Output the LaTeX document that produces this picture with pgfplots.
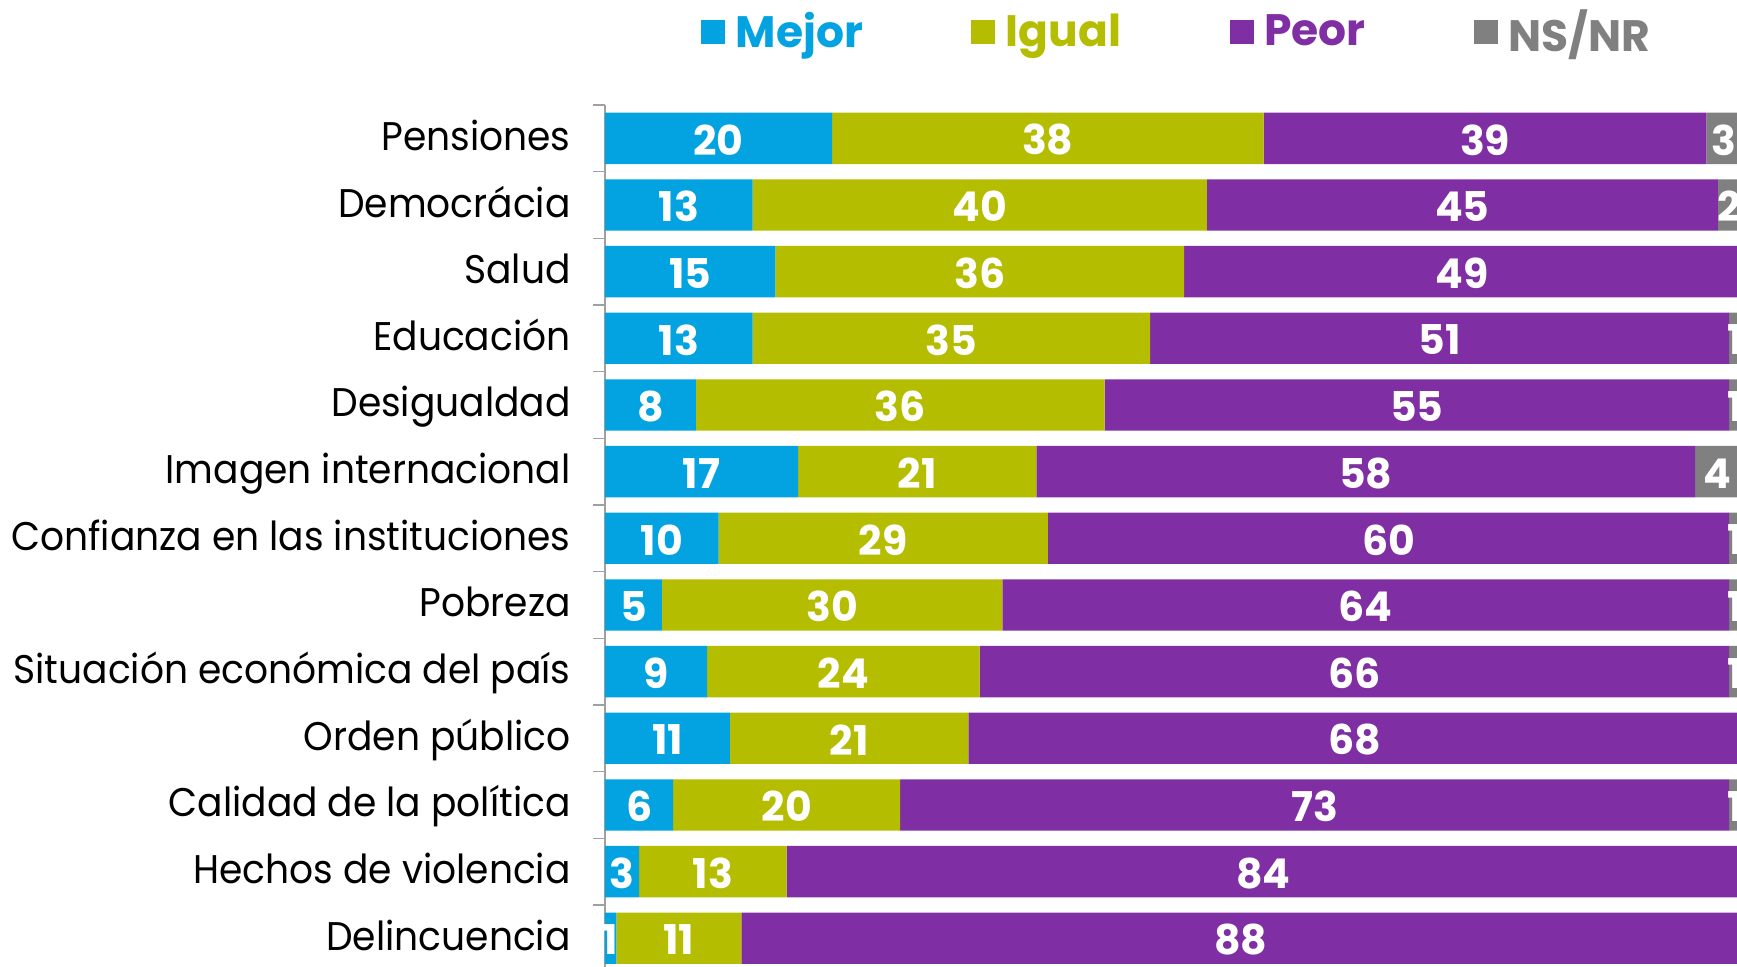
\documentclass[border=0pt]{standalone}
\usepackage{pgfplots}
\usepackage{pgfplotstable}
\pgfplotsset{compat=1.18}
\usepackage{fontspec}
\setmainfont{Poppins}
\newfontfamily\labelfont{Poppins}[FakeStretch=0.94]
\definecolor{cMejor}{HTML}{02A3E0}
\definecolor{cIgual}{HTML}{B5BD00}
\definecolor{cPeor}{HTML}{7F2FA3}
\definecolor{cNS}{HTML}{808080}
\definecolor{axgray}{HTML}{A0A0A0}

\pgfplotstableread{
idx mejor igual peor ns
0  20 38 39 3
1  13 40 45 2
2  15 36 49 0
3  13 35 51 1
4  8  36 55 1
5  17 21 58 4
6  10 29 60 1
7  5  30 64 1
8  9  24 66 1
9  11 21 68 0
10 6  20 73 1
11 3  13 84 0
12 1  11 88 0
}\datatable

\begin{document}
\begin{tikzpicture}
\useasboundingbox (0,0) rectangle (868.5pt,483pt);
\begin{axis}[
  at={(302.5pt,-2.8pt)}, anchor=south west,
  width=567.75pt, height=433.3pt, scale only axis,
  xbar stacked,
  bar width=0.77,
  xmin=0, xmax=100,
  ymin=-0.5, ymax=12.5,
  enlargelimits=false,
  y dir=reverse,
  axis x line=none,
  axis y line*=left,
  axis line style={axgray, line width=0.6pt, -},
  ytick={0,...,12},
  yticklabels={Pensiones,Democrácia,Salud,Educación,Desigualdad,Imagen internacional,Confianza en las instituciones,Pobreza,Situación económica del país,Orden público,Calidad de la política,Hechos de violencia,Delincuencia},
  major tick length=0pt,
  minor ytick={-0.5,0.5,...,12.5},
  minor tick length=6pt,
  tick align=outside,
  minor tick style={axgray, line width=0.6pt},
  yticklabel style={font=\labelfont\fontsize{20}{24}\selectfont, text=black, anchor=base east, inner sep=0pt, xshift=-17pt, yshift=-6pt},
  /pgf/number format/assume math mode=true,
  nodes near coords={\pgfmathfloatifflags{\pgfplotspointmeta}{0}{}{\pgfmathprintnumber[fixed,precision=0]{\pgfplotspointmeta}}},
  every node near coord/.append style={yshift=-0.8pt, anchor=center, font=\fontsize{20.5}{24}\selectfont\bfseries, text=white, inner sep=0pt},
  legend columns=4,
  legend image code/.code={\fill[#1] (0pt,-6pt) rectangle (12pt,6pt);},
  legend style={draw=none, fill=none, inner sep=0pt,
    at={(axis description cs:0.08455,1.0845)}, anchor=west,
    font=\fontsize{22}{26}\selectfont\bfseries,
    nodes={inner xsep=5.2pt, inner ysep=0pt},
    /tikz/every even column/.append style={column sep=49pt}},
]
\addplot[fill=cMejor, draw=none] table[x=mejor, y=idx] {\datatable};
\addlegendentry{\textcolor{cMejor}{Mejor}}
\addplot[fill=cIgual, draw=none] table[x=igual, y=idx] {\datatable};
\addlegendentry{\textcolor{cIgual}{Igual}}
\addplot[fill=cPeor, draw=none] table[x=peor, y=idx] {\datatable};
\addlegendentry{\textcolor{cPeor}{Peor}}
\addplot[fill=cNS, draw=none] table[x=ns, y=idx] {\datatable};
\addlegendentry{\textcolor{cNS}{NS/NR}}
\end{axis}
\end{tikzpicture}
\end{document}
